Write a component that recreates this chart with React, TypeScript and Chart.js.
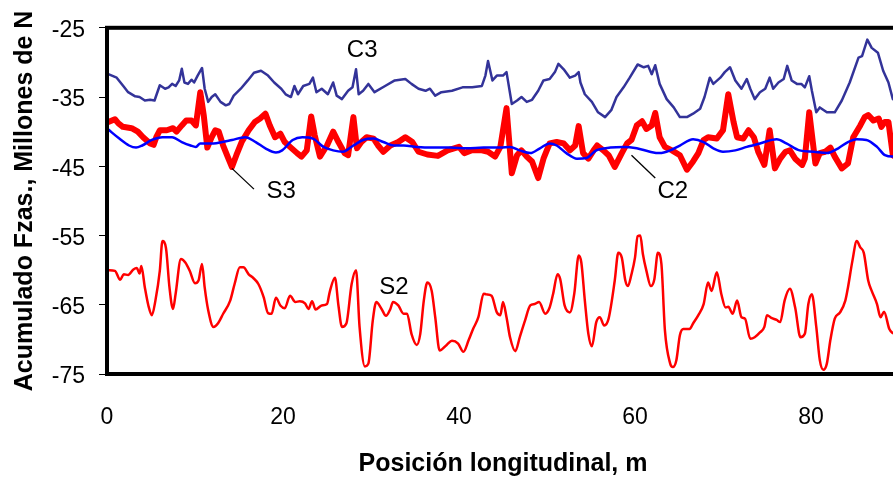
import React, { useEffect, useRef } from "react";
import { Chart, registerables } from "chart.js";

Chart.register(...registerables);

const xTicks = [0, 20, 40, 60, 80];
const yTicks = [-75, -65, -55, -45, -35, -25];

const c3: [number, number][] = [
  [0.15, -31.7], [1.1, -32.2], [1.85, -33.4], [2.4, -34.3], [3.2, -34.9], [3.7, -35.0], [4.3, -35.5], [4.9, -35.4],
  [5.4, -35.5], [6.0, -33.3], [6.6, -33.8], [7.0, -33.6], [7.4, -33.1], [7.8, -33.4], [8.2, -32.6], [8.5, -30.9],
  [8.8, -32.9], [9.2, -33.1], [9.6, -32.5], [9.9, -32.9], [10.3, -31.9], [10.8, -30.8], [11.1, -33.8], [11.5, -35.7],
  [11.9, -35.0], [12.3, -34.6], [12.9, -35.7], [13.5, -36.2], [13.9, -36.0], [14.4, -34.8], [15.2, -33.8], [16.0, -32.6],
  [16.7, -31.5], [17.5, -31.2], [18.3, -31.9], [19.0, -32.9], [19.8, -33.8], [20.3, -34.6], [20.9, -35.0], [21.3, -33.4],
  [21.7, -34.6], [22.3, -33.4], [23.0, -33.1], [23.4, -32.2], [23.8, -34.3], [24.4, -33.8], [25.1, -34.6], [25.7, -32.9],
  [26.1, -34.8], [26.7, -35.3], [27.4, -34.1], [27.9, -33.6], [28.3, -31.0], [28.6, -34.6], [29.1, -34.1], [29.7, -33.1],
  [30.4, -34.3], [31.6, -33.4], [32.7, -32.6], [33.9, -32.4], [34.6, -33.1], [35.4, -33.8], [36.2, -34.1], [36.7, -33.8],
  [37.3, -34.8], [38.0, -34.3], [39.2, -34.1], [40.4, -33.6], [41.5, -33.6], [42.6, -33.4], [43.0, -31.9], [43.3, -29.8],
  [43.8, -32.6], [44.3, -31.9], [45.0, -31.9], [45.4, -31.4], [46.0, -36.0], [46.6, -35.5], [47.1, -35.0], [47.7, -35.7],
  [48.3, -35.4], [49.0, -34.1], [49.6, -32.6], [50.3, -32.4], [50.9, -31.4], [51.3, -30.2], [51.9, -31.0], [52.6, -32.2],
  [53.2, -31.9], [53.6, -31.4], [53.8, -32.9], [54.3, -34.6], [55.1, -35.7], [55.8, -37.2], [56.6, -37.9], [57.3, -36.9],
  [57.9, -35.0], [58.7, -33.6], [59.4, -32.2], [60.3, -30.3], [61.0, -30.7], [61.5, -30.5], [61.9, -31.7], [62.3, -30.4],
  [62.8, -33.1], [63.6, -35.3], [64.4, -36.5], [65.1, -37.9], [65.9, -37.9], [66.6, -37.4], [67.4, -36.7], [67.9, -35.0],
  [68.5, -32.2], [68.9, -33.1], [69.7, -32.2], [70.2, -31.4], [70.8, -30.7], [71.4, -32.6], [72.1, -33.8], [72.7, -32.4],
  [73.1, -33.8], [73.6, -35.3], [74.2, -34.3], [74.8, -33.8], [75.3, -32.2], [75.7, -33.8], [76.3, -32.9], [76.9, -32.4],
  [77.3, -30.5], [77.8, -32.6], [78.4, -33.1], [78.9, -33.1], [79.3, -33.6], [79.8, -32.0], [80.1, -34.1], [80.6, -37.2],
  [81.0, -36.5], [81.8, -37.2], [82.7, -37.2], [83.5, -35.5], [84.4, -32.9], [85.4, -29.3], [85.8, -29.1], [86.4, -26.7],
  [86.9, -27.9], [87.6, -28.6], [88.2, -31.2], [88.8, -32.9], [89.3, -35.3], [90.0, -36.0],
];

const c2: [number, number][] = [
  [0.15, -39.7], [1.4, -41.0], [2.5, -42.0], [3.3, -42.3], [4.0, -42.0], [5.1, -41.2], [6.3, -40.8], [7.4, -40.8],
  [8.5, -41.5], [9.5, -42.0], [10.1, -42.2], [10.6, -41.7], [11.2, -41.7], [12.1, -41.7], [13.1, -41.5], [14.2, -41.2],
  [15.7, -40.8], [16.9, -41.5], [18.0, -42.4], [19.2, -43.0], [19.9, -42.7], [21.1, -41.2], [22.2, -40.8], [23.4, -41.0],
  [24.6, -42.2], [25.7, -42.7], [26.8, -42.9], [28.0, -42.0], [29.1, -41.2], [30.3, -41.0], [31.4, -41.5], [32.6, -42.0],
  [33.7, -42.0], [35.2, -42.2], [36.8, -42.3], [39.0, -42.3], [40.9, -42.4], [42.8, -42.3], [44.7, -42.3], [45.8, -42.2],
  [46.9, -42.7], [48.1, -43.1], [49.2, -42.4], [50.3, -41.7], [51.1, -42.0], [52.2, -43.1], [53.4, -43.9], [54.5, -43.8],
  [55.6, -42.7], [57.2, -42.3], [58.7, -42.2], [60.2, -42.4], [61.7, -42.9], [62.8, -43.1], [64.0, -42.7], [65.1, -42.0],
  [66.6, -41.1], [67.8, -41.5], [68.9, -42.4], [70.0, -42.9], [71.4, -42.7], [72.7, -42.2], [74.2, -41.7], [76.1, -41.1],
  [77.2, -41.7], [78.7, -42.7], [80.3, -42.9], [81.8, -43.1], [83.1, -42.4], [84.2, -41.5], [85.2, -41.1], [86.3, -41.2],
  [87.5, -42.2], [88.4, -43.4], [89.3, -43.6], [90.0, -43.6],
];

const s3: [number, number][] = [
  [0.15, -38.6], [0.9, -38.2], [1.3, -38.8], [1.8, -39.3], [2.8, -39.5], [3.5, -40.0], [4.1, -40.8], [4.9, -41.7],
  [5.3, -41.9], [5.6, -40.8], [6.0, -39.8], [6.8, -39.8], [7.5, -39.5], [7.9, -40.0], [8.5, -39.1], [9.0, -38.4],
  [9.6, -38.4], [10.1, -39.1], [10.6, -34.3], [11.0, -37.7], [11.4, -42.3], [11.9, -40.8], [12.3, -39.8], [12.7, -40.0],
  [13.2, -42.0], [13.8, -43.9], [14.2, -45.1], [14.7, -43.4], [15.3, -41.5], [16.1, -39.8], [16.8, -38.6], [17.4, -38.1],
  [18.0, -37.4], [18.5, -39.1], [19.1, -40.8], [19.7, -40.3], [20.2, -41.5], [20.8, -42.2], [21.6, -43.1], [22.1, -43.6],
  [22.7, -42.7], [23.2, -37.8], [23.6, -40.5], [24.2, -43.6], [25.0, -42.0], [25.7, -40.0], [26.3, -41.5], [27.0, -43.1],
  [27.4, -43.4], [28.0, -37.9], [28.4, -42.4], [28.9, -41.5], [29.5, -40.8], [30.3, -41.0], [30.8, -42.0], [31.4, -42.9],
  [32.2, -42.0], [33.1, -41.5], [33.9, -40.8], [34.7, -41.5], [35.4, -42.9], [36.4, -43.3], [37.6, -43.5], [38.7, -42.7],
  [40.0, -42.2], [40.6, -43.1], [41.4, -42.7], [42.6, -42.7], [43.3, -42.9], [44.1, -43.6], [44.7, -42.2], [45.4, -36.6],
  [46.0, -46.0], [46.6, -43.4], [47.1, -42.7], [47.7, -43.6], [48.3, -44.3], [49.0, -46.7], [49.6, -43.9], [50.3, -41.7],
  [51.1, -41.5], [51.9, -41.7], [52.6, -42.7], [53.2, -42.0], [53.6, -39.2], [54.1, -43.1], [54.7, -43.9], [55.3, -42.7],
  [55.7, -42.0], [56.4, -42.7], [57.0, -43.4], [57.7, -45.1], [58.5, -43.1], [59.1, -41.7], [59.6, -41.2], [60.2, -39.1],
  [60.8, -38.5], [61.3, -39.6], [61.9, -39.1], [62.3, -37.3], [62.8, -40.8], [63.4, -42.2], [64.2, -42.7], [65.1, -43.4],
  [65.9, -45.5], [66.6, -44.3], [67.2, -43.1], [67.8, -41.2], [68.3, -40.8], [69.3, -41.0], [70.0, -39.8], [70.6, -34.6],
  [71.2, -38.6], [71.6, -40.8], [72.3, -41.0], [72.9, -39.8], [73.5, -40.8], [74.0, -42.9], [74.7, -44.8], [75.3, -39.8],
  [75.9, -45.3], [76.5, -43.9], [77.1, -42.9], [77.6, -42.7], [78.2, -43.9], [79.0, -44.8], [79.3, -43.9], [79.8, -37.2],
  [80.5, -44.6], [81.0, -43.1], [81.6, -42.9], [82.2, -42.3], [82.7, -43.6], [83.5, -45.3], [84.2, -44.6], [84.8, -40.8],
  [85.6, -39.1], [86.1, -37.9], [86.5, -37.6], [87.1, -38.4], [87.7, -38.1], [88.0, -39.3], [88.4, -38.6], [88.8, -38.6],
  [89.0, -40.5], [89.3, -43.4], [90.0, -44.0],
];

const s2: [number, number][] = [
  [0.15, -60.0], [0.9, -60.1], [1.5, -61.4], [1.9, -60.6], [2.4, -60.7], [3.0, -59.9], [3.4, -59.7], [3.7, -60.5],
  [3.9, -59.4], [4.3, -62.5], [4.7, -65.1], [5.1, -66.5], [5.5, -64.4], [6.0, -60.1], [6.3, -55.8], [6.7, -56.8],
  [7.1, -62.5], [7.5, -65.6], [7.8, -63.4], [8.4, -58.4], [8.9, -58.9], [9.4, -60.1], [10.0, -61.9], [10.4, -61.5],
  [10.8, -59.1], [11.1, -62.5], [11.5, -65.8], [12.1, -68.2], [12.6, -67.7], [13.2, -66.3], [14.0, -64.4], [14.5, -62.0],
  [15.1, -59.6], [15.5, -59.6], [16.1, -60.6], [16.6, -61.1], [17.2, -62.0], [17.8, -63.9], [18.3, -66.2], [18.7, -66.3],
  [19.2, -64.0], [19.7, -65.1], [20.2, -65.5], [20.8, -63.7], [21.4, -64.6], [21.9, -64.5], [22.5, -64.8], [22.9, -65.6],
  [23.3, -64.5], [23.7, -65.7], [24.4, -65.1], [25.0, -64.9], [25.3, -63.2], [25.9, -61.1], [26.3, -65.1], [26.7, -68.2],
  [27.2, -67.7], [27.8, -62.0], [28.3, -60.0], [28.7, -68.2], [29.3, -73.9], [29.7, -73.5], [30.2, -67.3], [30.6, -64.6],
  [31.2, -65.6], [31.7, -66.6], [32.2, -65.6], [32.5, -64.6], [33.1, -65.1], [33.7, -66.3], [34.1, -66.3], [34.6, -69.2],
  [35.2, -70.8], [35.6, -69.2], [36.0, -64.4], [36.4, -61.8], [36.9, -63.0], [37.3, -66.8], [37.8, -71.6], [38.6, -70.8],
  [39.2, -70.2], [39.9, -70.6], [40.5, -71.8], [41.1, -70.1], [41.6, -68.5], [42.2, -66.8], [42.8, -63.4], [43.1, -63.5],
  [43.7, -63.7], [44.3, -66.1], [44.7, -66.5], [45.0, -64.6], [45.4, -66.8], [45.8, -69.7], [46.4, -71.7], [46.9, -69.7],
  [47.5, -67.3], [48.1, -65.1], [48.6, -64.9], [49.1, -64.6], [49.8, -66.3], [50.3, -65.4], [50.7, -63.4], [51.2, -60.6],
  [51.5, -61.3], [52.0, -65.1], [52.6, -66.1], [53.1, -63.4], [53.6, -57.9], [53.9, -58.9], [54.3, -64.4], [54.7, -69.2],
  [55.1, -71.0], [55.6, -67.5], [56.0, -66.8], [56.5, -68.0], [57.0, -67.0], [57.7, -61.5], [58.1, -57.5], [58.5, -58.2],
  [58.9, -61.5], [59.2, -62.3], [59.6, -60.6], [60.0, -58.2], [60.3, -55.1], [60.6, -55.0], [60.9, -57.7], [61.3, -60.1],
  [61.8, -62.3], [62.2, -61.3], [62.6, -57.5], [63.0, -59.1], [63.4, -68.7], [64.0, -73.5], [64.3, -74.0], [64.7, -73.0],
  [65.1, -69.4], [65.5, -68.5], [66.2, -68.5], [66.6, -67.7], [67.2, -66.5], [67.8, -64.9], [68.3, -61.8], [68.7, -63.0],
  [69.3, -60.3], [69.8, -63.4], [70.3, -65.4], [70.6, -65.3], [71.1, -66.3], [71.6, -64.4], [72.1, -66.8], [72.5, -67.0],
  [73.1, -69.9], [73.6, -69.7], [74.2, -69.0], [74.7, -68.2], [75.0, -66.5], [75.5, -66.9], [76.1, -67.2], [76.5, -67.5],
  [77.0, -64.4], [77.6, -62.7], [78.2, -65.4], [78.8, -69.7], [79.3, -69.2], [79.7, -64.9], [80.1, -63.5], [80.6, -68.2],
  [81.0, -73.0], [81.4, -74.4], [81.8, -73.5], [82.2, -70.1], [82.7, -67.0], [83.3, -66.1], [83.9, -64.4], [84.2, -62.5],
  [84.7, -58.7], [85.2, -55.8], [85.6, -56.7], [86.0, -57.5], [86.5, -61.5], [86.9, -63.0], [87.5, -64.9], [87.9, -66.8],
  [88.3, -66.0], [88.9, -68.5], [89.3, -69.1], [90.0, -69.5],
];

// Series name labels placed in data coordinates
const seriesNotes = [
  { text: "C3", x: 29.0, y: -28.2 },
  { text: "S3", x: 19.8, y: -48.6 },
  { text: "C2", x: 64.3, y: -48.6 },
  { text: "S2", x: 32.6, y: -62.5 },
];
const leaderLines = [
  { x1: 14.2, y1: -45.3, x2: 16.7, y2: -48.3 },
  { x1: 59.6, y1: -43.4, x2: 62.3, y2: -46.7 },
];

const FONT = '"Liberation Sans", Arial, sans-serif';

const framePlugin = {
  id: "frameAndNotes",
  afterDatasetsDraw(chart: any) {
    const { ctx, chartArea: a, scales } = chart;
    const xs = scales.x;
    const ys = scales.y;
    ctx.save();
    ctx.strokeStyle = "#000";
    ctx.lineWidth = 1.3;
    for (const l of leaderLines) {
      ctx.beginPath();
      ctx.moveTo(xs.getPixelForValue(l.x1), ys.getPixelForValue(l.y1));
      ctx.lineTo(xs.getPixelForValue(l.x2), ys.getPixelForValue(l.y2));
      ctx.stroke();
    }
    ctx.fillStyle = "#000";
    ctx.font = `24px ${FONT}`;
    ctx.textAlign = "center";
    ctx.textBaseline = "middle";
    for (const n of seriesNotes) {
      ctx.fillText(n.text, xs.getPixelForValue(n.x), ys.getPixelForValue(n.y));
    }
    ctx.lineWidth = 4;
    ctx.strokeRect(a.left, a.top, a.right - a.left, a.bottom - a.top);
    ctx.restore();
  },
};

const toPts = (arr: [number, number][]) => arr.map(([x, y]) => ({ x, y }));

export default function App() {
  const ref = useRef<HTMLCanvasElement | null>(null);
  useEffect(() => {
    if (!ref.current) return;
    const chart = new Chart(ref.current, {
      type: "line",
      data: {
        datasets: [
          { label: "C3", data: toPts(c3), borderColor: "#333399", borderWidth: 2.5, pointRadius: 0, tension: 0, borderJoinStyle: "round" },
          { label: "S2", data: toPts(s2), borderColor: "#FF0000", borderWidth: 2.5, pointRadius: 0, tension: 0.3, cubicInterpolationMode: "monotone" },
          { label: "C2", data: toPts(c2), borderColor: "#0000FF", borderWidth: 2.5, pointRadius: 0, tension: 0.3, cubicInterpolationMode: "monotone" },
          { label: "S3", data: toPts(s3), borderColor: "#FF0000", borderWidth: 6, pointRadius: 0, tension: 0, borderJoinStyle: "round", borderCapStyle: "round" },
        ],
      },
      options: {
        animation: false,
        responsive: false,
        maintainAspectRatio: false,
        devicePixelRatio: 1,
        layout: { padding: { top: 25, right: 11, left: 0, bottom: 0 } },
        plugins: { legend: { display: false }, tooltip: { enabled: false } },
        scales: {
          x: {
            type: "linear",
            min: 0,
            max: 90,
            afterBuildTicks: (s: any) => { s.ticks = xTicks.map((v) => ({ value: v })); },
            afterFit: (s: any) => { s.height = 107; },
            grid: { display: false, drawTicks: false },
            border: { display: false },
            ticks: { color: "#000", font: { family: FONT, size: 23 }, padding: 30, maxRotation: 0, autoSkip: false },
            title: {
              display: true,
              text: "Posición longitudinal, m",
              color: "#000",
              font: { family: FONT, size: 25, weight: "bold" },
              padding: { top: 0, bottom: 2 },
            },
          },
          y: {
            type: "linear",
            min: -75,
            max: -25,
            afterBuildTicks: (s: any) => { s.ticks = yTicks.map((v) => ({ value: v })); },
            afterFit: (s: any) => { s.width = 107; },
            grid: { drawOnChartArea: false, drawTicks: true, tickLength: 8, color: "#000", lineWidth: 1 },
            border: { display: false },
            ticks: { color: "#000", font: { family: FONT, size: 23 }, padding: 14, labelOffset: 3, autoSkip: false },
            title: {
              display: true,
              text: "Acumulado Fzas., Millones de N",
              color: "#000",
              font: { family: FONT, size: 25, weight: "bold" },
              padding: { top: 10, bottom: 0 },
            },
          },
        },
      },
      plugins: [framePlugin],
    } as any);
    return () => chart.destroy();
  }, []);
  return (
    <div style={{ position: "fixed", left: 0, top: 0, width: 893, height: 481, overflow: "hidden", background: "#fff" }}>
      <canvas ref={ref} width={910} height={481} style={{ width: 910, height: 481, display: "block" }} />
    </div>
  );
}
